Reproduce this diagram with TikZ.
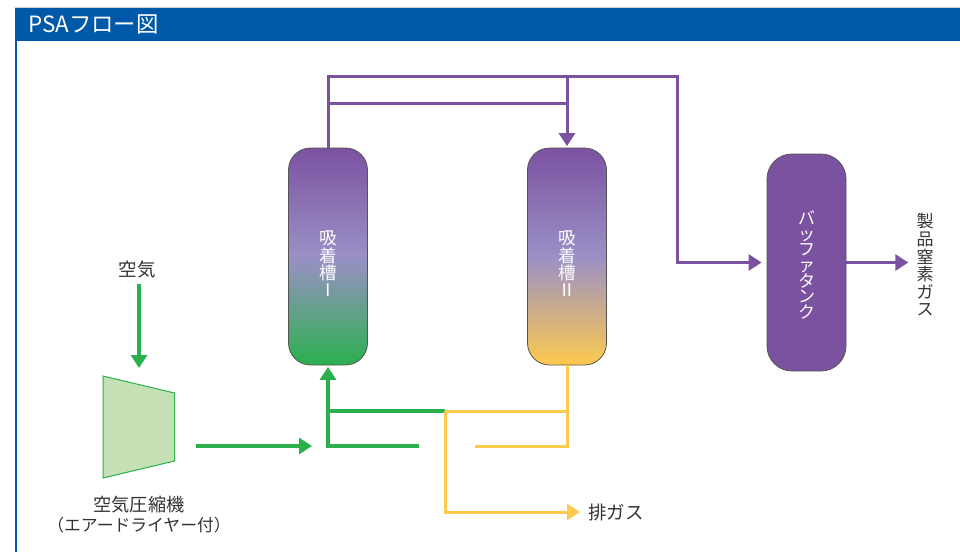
\documentclass[tikz,border=0pt]{standalone}
\usepackage{fontspec}
\setmainfont{Noto Sans CJK JP}
\usetikzlibrary{arrows.meta}
\definecolor{hdrblue}{HTML}{0058A8}
\definecolor{pur}{HTML}{7B52A0}
\definecolor{lav}{HTML}{9A90C6}
\definecolor{grn}{HTML}{2BB04E}
\definecolor{ylw}{HTML}{FDCA4E}
\definecolor{ltgrn}{HTML}{C5E0B4}
\definecolor{txt}{HTML}{333333}
\definecolor{tankedge}{HTML}{555555}
\begin{document}
\begin{tikzpicture}[x=1pt,y=-1pt,
  tank/.style={draw=tankedge, line width=0.8pt, rounded corners=22pt,
    minimum width=79pt, minimum height=217pt, inner sep=0pt},
  tanktext/.style={text=white, align=center, inner sep=0pt, font=\fontsize{17.5}{17.3}\selectfont},
  lbl/.style={text=txt, align=center, inner sep=0pt, font=\fontsize{18.5}{20}\selectfont},
  ppipe/.style={draw=pur, line width=3pt},
  gpipe/.style={draw=grn, line width=3.2pt},
  ypipe/.style={draw=ylw, line width=3pt},
  tip/.style={-{Triangle[length=13pt,width=16pt]}}
]
\useasboundingbox (0,0) rectangle (960,552);
\fill[white] (0,0) rectangle (960,552);
% header
\draw[draw={rgb,255:red,205;green,210;blue,215}, line width=1pt] (15,7) -- (960,7);
\fill[hdrblue] (15,7.5) rectangle (960,40.5);
\draw[hdrblue, line width=1.5pt] (15.75,40) -- (15.75,552);
\node[anchor=west, text=white, inner sep=0pt, font=\fontsize{22.4}{24}\selectfont] (title) at (28,24) {PSAフロー図};

% tanks
\node[tank, top color=pur, bottom color=grn, middle color=lav] (t1) at (328,256.5) {};
\node[tanktext] (t1l) at (328,264) {吸\\着\\槽\\Ⅰ};
\node[tank, top color=pur, bottom color=ylw, middle color=lav] (t2) at (567,256.5) {};
\node[tanktext] (t2l) at (567,264) {吸\\着\\槽\\Ⅱ};
\node[tank, fill=pur, rounded corners=25pt] (buf) at (806.5,262.5) {};
\node[tanktext, font=\fontsize{17}{15.7}\selectfont] (bufl) at (806.5,265) {バ\\ッ\\フ\\ァ\\タ\\ン\\ク};
\node[lbl, font=\fontsize{17}{17.6}\selectfont] (prod) at (925,265) {製\\品\\窒\\素\\ガ\\ス};

% purple pipes
\coordinate (ptop1) at (328,76);
\coordinate (ptop3) at (677,76);
\coordinate (pmid1) at (328,103);
\coordinate (ptop2) at (t2.north |- ptop1);
\coordinate (pmid2) at (t2.north |- pmid1);
\draw[ppipe, tip, shorten >=5pt] (t1.north) |- (ptop3) |- (buf.west);
\draw[ppipe] (pmid1) -- (pmid2);
\draw[ppipe, tip, shorten >=1.5pt] (ptop2) -- (t2.north);
\draw[ppipe, tip, shorten >=8pt] (buf.east) -- (prod.west |- buf.east);

% air and compressor
\node[lbl] (air) at (137,270) {空気};
\coordinate (cin) at (139,368);
\draw[gpipe, tip, shorten <=5pt] (air.south -| cin) -- (cin);
\draw[draw=grn, fill=ltgrn, line width=1pt] (103,376) -- (174.5,393) -- (174.5,461) -- (103,478) -- cycle;
\node[lbl, font=\fontsize{18.2}{20}\selectfont] (comp) at (139,505) {空気圧縮機};
\node[lbl, font=\fontsize{16.8}{18}\selectfont] (comp2) at (139,525) {（エアードライヤー付）};
\coordinate (cout) at (196,446);
\coordinate (cend) at (312,446);
\draw[gpipe, tip] (cout) -- (cend);

% green lines to tank I
\coordinate (g1) at (419,446);
\coordinate (gj) at (t1.south |- 0,411);
\coordinate (yj) at (445,411);
\draw[gpipe, tip, shorten >=1.5pt] (g1) -| (t1.south);
\draw[gpipe] (gj) -- (yj);

% yellow lines
\coordinate (y2) at (475,446);
\node[lbl, anchor=west] (exh) at (588,512) {排ガス};
\draw[ypipe] (t2.south) |- (y2);
\draw[ypipe] (yj) -- (t2.south |- yj);
\draw[ypipe, tip, shorten >=8pt] (yj) |- (exh.west);
\end{tikzpicture}
\end{document}
